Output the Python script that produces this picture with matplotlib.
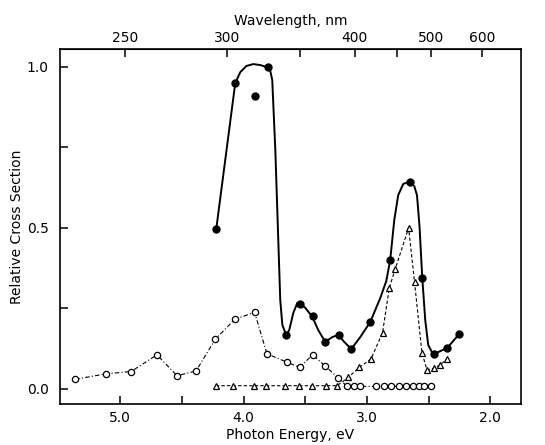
import numpy as np
import matplotlib.pyplot as plt

# filled circles (solid curve)
e_fill = [4.222, 4.068, 3.911, 3.802, 3.656, 3.540, 3.441, 3.338, 3.230,
          3.130, 2.973, 2.811, 2.654, 2.554, 2.454, 2.351, 2.251]
v_fill = [0.497, 0.951, 0.910, 0.999, 0.168, 0.263, 0.225, 0.147, 0.168,
          0.124, 0.209, 0.400, 0.642, 0.346, 0.109, 0.128, 0.170]

# hand-drawn smooth curve through the filled points
e_curve = [4.222, 4.068, 4.027, 3.978, 3.922, 3.865, 3.816, 3.784, 3.768,
           3.743, 3.719, 3.703, 3.686, 3.656, 3.630, 3.597, 3.565, 3.540,
           3.500, 3.443, 3.395, 3.338, 3.281, 3.232, 3.184, 3.127, 3.054,
           2.973, 2.892, 2.843, 2.811, 2.778, 2.746, 2.705, 2.656, 2.616,
           2.594, 2.584, 2.573, 2.559, 2.551, 2.527, 2.503, 2.470, 2.454,
           2.349, 2.251]
v_curve = [0.497, 0.950, 0.984, 1.003, 1.009, 1.006, 1.000, 0.988, 0.960,
           0.742, 0.463, 0.276, 0.199, 0.168, 0.183, 0.236, 0.267, 0.264,
           0.252, 0.224, 0.183, 0.146, 0.161, 0.168, 0.146, 0.124, 0.161,
           0.208, 0.282, 0.335, 0.401, 0.525, 0.602, 0.637, 0.643, 0.630,
           0.602, 0.556, 0.503, 0.401, 0.345, 0.214, 0.137, 0.112, 0.109,
           0.127, 0.171]

# open circles
e_open = [5.365, 5.116, 4.913, 4.703, 4.540, 4.386, 4.230, 4.073, 3.911,
          3.811, 3.648, 3.546, 3.441, 3.338, 3.235, 3.162, 3.108, 3.054,
          2.924, 2.865, 2.805, 2.743, 2.681, 2.630, 2.581, 2.533, 2.484]
v_open = [0.030, 0.047, 0.054, 0.106, 0.041, 0.056, 0.154, 0.216, 0.238,
          0.109, 0.083, 0.067, 0.106, 0.071, 0.035, 0.008, 0.008, 0.008,
          0.008, 0.008, 0.008, 0.008, 0.008, 0.008, 0.008, 0.008, 0.008]

# open triangles
e_tri = [4.225, 4.090, 3.920, 3.820, 3.662, 3.549, 3.445, 3.331, 3.242,
         3.150, 3.062, 2.967, 2.873, 2.819, 2.770, 2.662, 2.614, 2.554,
         2.513, 2.454, 2.405, 2.351]
v_tri = [0.010, 0.010, 0.010, 0.010, 0.010, 0.010, 0.010, 0.010, 0.010,
         0.036, 0.067, 0.093, 0.175, 0.313, 0.373, 0.500, 0.333, 0.113,
         0.059, 0.064, 0.075, 0.093]

hc = 1239.84

plt.rcParams['xtick.direction'] = 'in'
plt.rcParams['ytick.direction'] = 'in'

fig = plt.figure(figsize=(5.45, 4.45), dpi=100)
ax = fig.add_axes([0.110, 0.092, 0.846, 0.798])

ax.plot(e_curve, v_curve, color='black', lw=1.4)
ax.plot(e_fill, v_fill, 'o', color='black', ms=5)
ax.plot(e_open, v_open, color='black', lw=0.8, ls=(0, (4, 2, 1, 2)),
        marker='o', mfc='white', mec='black', ms=4.5, mew=0.9)
ax.plot(e_tri, v_tri, color='black', lw=0.8, ls=(0, (3, 2)),
        marker='^', mfc='white', mec='black', ms=5, mew=0.9)

ax.set_xlim(5.49, 1.75)
ax.set_ylim(-0.047, 1.056)
ax.set_xticks([5.0, 4.0, 3.0, 2.0])
ax.set_xticks([4.5, 3.5, 2.5], minor=True)
ax.set_xticklabels(['5.0', '4.0', '3.0', '2.0'])
ax.set_yticks([0.0, 0.5, 1.0])
ax.set_yticks([0.25, 0.75], minor=True)
ax.set_yticklabels(['0.0', '0.5', '1.0'])
ax.tick_params(which='both', direction='in', labelsize=10, width=1.1,
               length=6)
ax.tick_params(axis='x', pad=5)
ax.tick_params(axis='y', pad=8)
for s in ax.spines.values():
    s.set_linewidth(1.2)

top = ax.secondary_xaxis('top', functions=(lambda e: hc / e, lambda l: hc / l))
top.set_xticks([250, 300, 400, 500, 600])
top.set_xticks([350, 450], minor=True)
top.set_xticklabels(['250', '300', '400', '500', '600'])
top.tick_params(which='both', direction='in', length=6, width=1.1,
                labelsize=10, pad=3)
top.set_xlabel('Wavelength, nm', fontsize=10, labelpad=4)

ax.set_xlabel('Photon Energy, eV', fontsize=10, labelpad=2)
ax.set_ylabel('Relative Cross Section', fontsize=10, labelpad=2)

fig.savefig('out.png', dpi=100)
